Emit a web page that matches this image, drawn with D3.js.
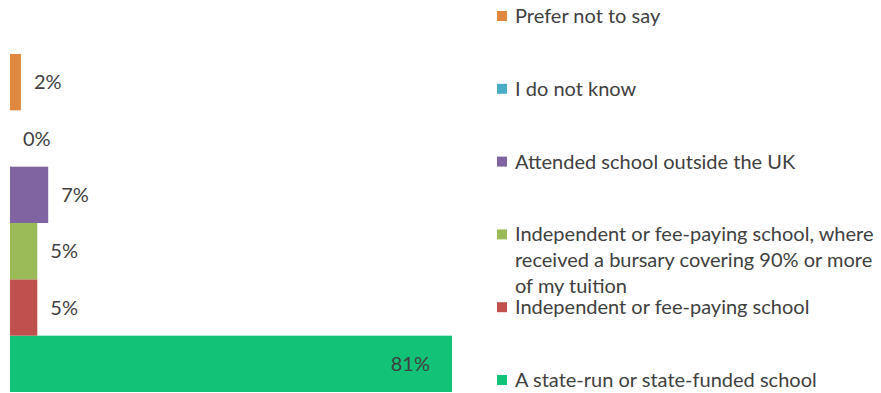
<!DOCTYPE html>
<html>
<head>
<meta charset="utf-8">
<script src="https://cdn.jsdelivr.net/npm/d3@7"></script>
<style>
  html, body { margin: 0; padding: 0; background: #fff; }
  svg { display: block; }
  text { font-family: Lato, "Open Sans", sans-serif; fill: #404040; }
</style>
</head>
<body>
<svg id="chart" width="881" height="393"></svg>
<script>
// School type categories, bottom bar first
const categories = [
  "A state-run or state-funded school",
  "Independent or fee-paying school",
  "Independent or fee-paying school, where received a bursary covering 90% or more of my tuition",
  "Attended school outside the UK",
  "I do not know",
  "Prefer not to say"
];
const values = [81, 5, 5, 7, 0, 2];
const colors = ["#12C277", "#C0504D", "#9BBB59", "#8064A2", "#4BACC6", "#E0883F"];
// Legend lines (wrapped text), top item first
const legendLines = [
  ["Prefer not to say"],
  ["I do not know"],
  ["Attended school outside the UK"],
  ["Independent or fee-paying school, where", "received a bursary covering 90% or more", "of my tuition"],
  ["Independent or fee-paying school"],
  ["A state-run or state-funded school"]
];

const svg = d3.select("#chart");
const x = d3.scaleLinear().domain([0, 81]).range([10, 452]);
const y = d3.scaleBand().domain([...categories].reverse()).range([54, 392]).padding(0);

const rows = categories.map((c, i) => ({ c, v: values[i], color: colors[i] }));

svg.selectAll("rect.bar").data(rows).join("rect")
  .attr("class", "bar")
  .attr("x", x(0))
  .attr("y", d => y(d.c))
  .attr("width", d => x(d.v) - x(0))
  .attr("height", y.bandwidth())
  .attr("fill", d => d.color);

svg.selectAll("text.val").data(rows).join("text")
  .attr("class", "val")
  .attr("x", d => d.v > 40 ? x(d.v) - 22 : x(d.v) + 13)
  .attr("y", d => y(d.c) + y.bandwidth() / 2)
  .attr("dy", "0.35em")
  .attr("text-anchor", d => d.v > 40 ? "end" : "start")
  .style("font-size", "20px")
  .text(d => d.v + "%");

// Legend
const legendY = d3.scalePoint().domain(d3.range(6)).range([16, 380]);
const lg = svg.selectAll("g.leg").data(legendLines).join("g")
  .attr("class", "leg")
  .attr("transform", (d, i) => `translate(497,${legendY(i)})`);
lg.append("rect")
  .attr("x", 0).attr("y", -5).attr("width", 10).attr("height", 10)
  .attr("fill", (d, i) => colors[5 - i]);
lg.each(function(lines) {
  const t = d3.select(this).append("text")
    .attr("x", 18).attr("y", 0)
    .style("font-size", "20px");
  lines.forEach((line, j) => {
    t.append("tspan").attr("x", 18).attr("y", j * 26).attr("dy", "0.35em").text(line);
  });
});
</script>
</body>
</html>
